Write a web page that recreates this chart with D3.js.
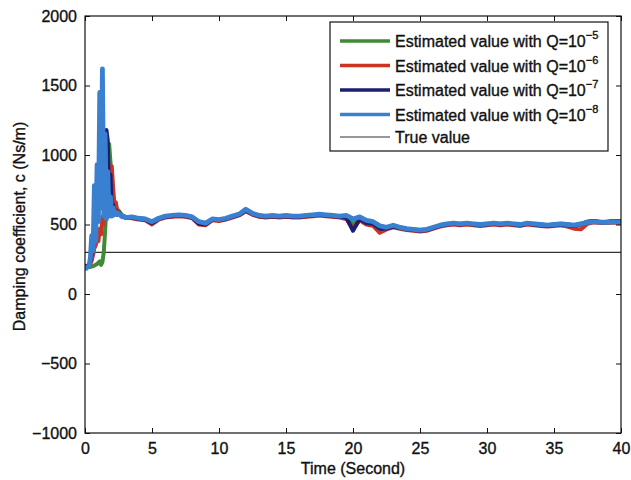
<!DOCTYPE html>
<html>
<head>
<meta charset="utf-8">
<script src="https://cdn.jsdelivr.net/npm/d3@7"></script>
<style>
  html, body { margin: 0; padding: 0; background: #fff; }
  svg { display: block; }
  text { font-family: "Liberation Sans", Arial, Helvetica, sans-serif; fill: #111; stroke: #111; stroke-width: 0.35px; }
</style>
</head>
<body>
<svg id="chart" width="631" height="480"></svg>
<script>
// Sample times (s): dense through the start-up transient, coarser afterwards
const time = [
  0, 0.1, 0.2, 0.3, 0.4, 0.5, 0.6, 0.7, 0.8, 0.9, 1.0, 1.1, 1.2, 1.3, 1.4, 1.5,
  1.6, 1.7, 1.8, 1.9, 2.0, 2.1, 2.2, 2.3, 2.4, 2.5, 2.6, 2.7, 2.8, 2.9, 3.0,
  3.5, 4, 4.5, 5, 5.5, 6, 6.5, 7, 7.5, 8, 8.5, 9, 9.5, 10, 10.5, 11, 11.5, 12,
  12.5, 13, 13.5, 14, 14.5, 15, 15.5, 16, 16.5, 17, 17.5, 18, 18.5, 19, 19.5, 20,
  20.5, 21, 21.5, 22, 22.5, 23, 23.5, 24, 24.5, 25, 25.5, 26, 26.5, 27, 27.5, 28,
  28.5, 29, 29.5, 30, 30.5, 31, 31.5, 32, 32.5, 33, 33.5, 34, 34.5, 35, 35.5, 36,
  36.5, 37, 37.5, 38, 38.5, 39, 39.5, 40
];

// Estimated damping coefficient c (Ns/m) for each process-noise level Q
const estQ5 = [
  195, 195, 195, 195, 195, 200, 200, 205, 210, 215, 225, 235, 210, 230, 300, 450,
  650, 850, 1080, 950, 760, 700, 640, 620, 610, 600, 590, 575, 565, 560, 555,
  550, 545, 540, 515, 540, 555, 560, 565, 560, 550, 515, 505, 535, 530, 540, 555,
  570, 600, 575, 560, 555, 560, 555, 560, 555, 555, 560, 565, 570, 565, 560, 555,
  555, 500, 545, 525, 515, 485, 475, 490, 480, 470, 465, 460, 465, 475, 490, 500,
  505, 505, 505, 500, 500, 505, 505, 505, 505, 500, 500, 505, 505, 500, 495, 500,
  505, 500, 495, 505, 520, 525, 520, 520, 525, 525
];
const estQ6 = [
  200, 200, 200, 205, 215, 240, 280, 330, 350, 400, 380, 470, 430, 560, 500, 640,
  600, 720, 640, 880, 920, 760, 640, 660, 600, 590, 580, 570, 560, 555, 550,
  545, 535, 530, 500, 535, 550, 555, 560, 555, 545, 500, 495, 530, 525, 535, 550,
  565, 595, 570, 555, 550, 555, 550, 555, 550, 550, 555, 560, 565, 560, 555, 550,
  540, 470, 530, 500, 490, 440, 465, 480, 470, 460, 455, 450, 455, 470, 485, 495,
  500, 495, 500, 495, 490, 495, 500, 495, 500, 495, 490, 500, 495, 490, 485, 490,
  495, 485, 470, 465, 505, 515, 510, 510, 515, 510
];
const estQ7 = [
  200, 200, 205, 210, 230, 300, 360, 420, 500, 560, 720, 640, 820, 700, 900, 760,
  1180, 1100, 700, 860, 600, 640, 580, 600, 570, 585, 575, 565, 560, 555, 550,
  550, 540, 535, 510, 540, 555, 560, 565, 560, 550, 505, 500, 535, 530, 540, 555,
  570, 600, 575, 560, 555, 560, 555, 560, 555, 555, 560, 565, 570, 565, 560, 555,
  550, 455, 540, 510, 505, 470, 470, 485, 475, 465, 460, 455, 460, 475, 490, 500,
  505, 500, 505, 500, 495, 500, 505, 500, 505, 500, 495, 505, 500, 495, 490, 495,
  500, 495, 490, 500, 520, 525, 515, 520, 525, 520
];
const estQ8 = [
  190, 185, 195, 200, 260, 420, 310, 780, 380, 930, 520, 1450, 620, 1620, 560, 1150,
  540, 880, 560, 700, 560, 620, 570, 590, 575, 580, 570, 560, 555, 560, 550,
  555, 545, 540, 520, 545, 560, 565, 570, 565, 555, 520, 510, 540, 535, 545, 560,
  575, 610, 580, 565, 560, 565, 560, 565, 560, 560, 565, 570, 575, 570, 565, 560,
  565, 540, 555, 530, 520, 490, 480, 495, 480, 470, 465, 460, 465, 480, 495, 505,
  510, 505, 510, 505, 500, 505, 510, 505, 510, 505, 500, 510, 505, 500, 495, 500,
  505, 500, 495, 505, 515, 520, 515, 515, 520, 515
];
const trueValue = 300;

const seriesNames = [
  "Estimated value with Q=10",
  "Estimated value with Q=10",
  "Estimated value with Q=10",
  "Estimated value with Q=10",
  "True value"
];
const seriesExponents = ["\u22125", "\u22126", "\u22127", "\u22128", ""];
const seriesColors = ["#3f8a34", "#cc3322", "#1c1f70", "#3a80d0", "#333333"];

const xTicks = [0, 5, 10, 15, 20, 25, 30, 35, 40];
const yTicks = [-1000, -500, 0, 500, 1000, 1500, 2000];
const xTitle = "Time (Second)";
const yTitle = "Damping coefficient, c (Ns/m)";

// Layout
const plot = { left: 85, right: 621, top: 16, bottom: 433 };
const svg = d3.select("#chart");

const x = d3.scaleLinear().domain([0, 40]).range([plot.left, plot.right]);
const y = d3.scaleLinear().domain([-1000, 2000]).range([plot.bottom, plot.top]);

const fmt = v => (v < 0 ? "\u2212" + Math.abs(v) : String(v));

// Curves, clipped to the axes box
svg.append("clipPath").attr("id", "clip")
  .append("rect")
  .attr("x", plot.left).attr("y", plot.top)
  .attr("width", plot.right - plot.left).attr("height", plot.bottom - plot.top);

const line = d3.line().x((d, i) => x(time[i])).y(d => y(d));
const curves = svg.append("g").attr("clip-path", "url(#clip)");

// True value reference line
curves.append("line")
  .attr("x1", x(0)).attr("x2", x(40))
  .attr("y1", y(trueValue)).attr("y2", y(trueValue))
  .attr("stroke", seriesColors[4]).attr("stroke-width", 1.2);

const estimates = [estQ5, estQ6, estQ7, estQ8];
const widths = [4, 4, 4, 4.8];
estimates.forEach((vals, k) => {
  curves.append("path")
    .attr("d", line(vals))
    .attr("fill", "none")
    .attr("stroke", seriesColors[k])
    .attr("stroke-width", widths[k])
    .attr("stroke-linejoin", "round")
    .attr("stroke-linecap", "round");
});

// Axes with inward ticks on all four sides
const tickLen = 5;
const axisBottom = d3.axisBottom(x).tickValues(xTicks).tickSizeInner(-tickLen).tickSizeOuter(0).tickPadding(10);
const axisTop = d3.axisTop(x).tickValues(xTicks).tickSizeInner(-tickLen).tickSizeOuter(0).tickFormat("");
const axisLeft = d3.axisLeft(y).tickValues(yTicks).tickSizeInner(-tickLen).tickSizeOuter(0).tickPadding(8).tickFormat(fmt);
const axisRight = d3.axisRight(y).tickValues(yTicks).tickSizeInner(-tickLen).tickSizeOuter(0).tickFormat("");

function styleAxis(g) {
  g.select(".domain").remove();
  g.selectAll(".tick line").attr("stroke", "#111").attr("stroke-width", 1);
  g.selectAll(".tick text").attr("font-size", 16).attr("fill", "#111")
    .attr("font-family", "Liberation Sans, Arial, sans-serif");
}

svg.append("g").attr("transform", `translate(0,${plot.bottom})`).call(axisBottom).call(styleAxis);
svg.append("g").attr("transform", `translate(0,${plot.top})`).call(axisTop).call(styleAxis);
svg.append("g").attr("transform", `translate(${plot.left},0)`).call(axisLeft).call(styleAxis);
svg.append("g").attr("transform", `translate(${plot.right},0)`).call(axisRight).call(styleAxis);

// Axes box
svg.append("rect")
  .attr("x", plot.left).attr("y", plot.top)
  .attr("width", plot.right - plot.left).attr("height", plot.bottom - plot.top)
  .attr("fill", "none").attr("stroke", "#111").attr("stroke-width", 1.2);

// Axis titles
svg.append("text")
  .attr("x", (plot.left + plot.right) / 2).attr("y", 474)
  .attr("text-anchor", "middle").attr("font-size", 16)
  .text(xTitle);

svg.append("text")
  .attr("transform", `translate(25,${(plot.top + plot.bottom) / 2 + 2}) rotate(-90)`)
  .attr("text-anchor", "middle").attr("font-size", 16)
  .text(yTitle);

// Legend
const legend = svg.append("g");
const lg = { x: 330, y: 22, w: 278, h: 129 };
legend.append("rect")
  .attr("x", lg.x).attr("y", lg.y).attr("width", lg.w).attr("height", lg.h)
  .attr("fill", "#fff").attr("stroke", "#111").attr("stroke-width", 1.2);

const rowY = [41, 65.5, 90, 114.5, 137];
seriesNames.forEach((name, k) => {
  legend.append("line")
    .attr("x1", 340).attr("x2", 390)
    .attr("y1", rowY[k]).attr("y2", rowY[k])
    .attr("stroke", seriesColors[k])
    .attr("stroke-width", k < 4 ? 3.6 : 1.2);
  const t = legend.append("text")
    .attr("x", 395).attr("y", rowY[k] + 6)
    .attr("font-size", 16);
  t.append("tspan").text(name);
  if (seriesExponents[k]) {
    t.append("tspan").attr("dy", -8).attr("font-size", 11).text(seriesExponents[k]);
  }
});
</script>
</body>
</html>
